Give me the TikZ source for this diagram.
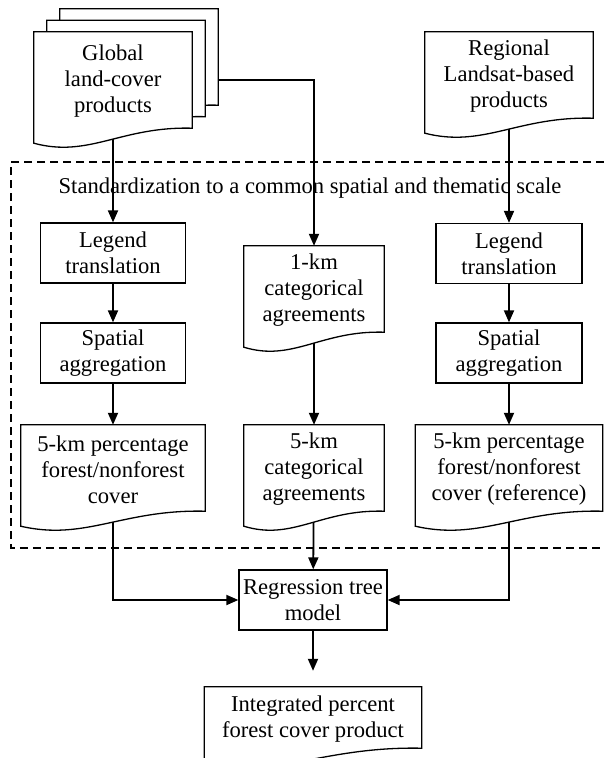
\documentclass[tikz,border=0pt]{standalone}
\usepackage{fontspec}
\setmainfont{Liberation Serif}
\usetikzlibrary{arrows.meta,calc}
\pgfdeclarelayer{background}
\pgfdeclarelayer{shapes}
\pgfsetlayers{background,shapes,main}
\newcommand{\docoutline}[1]{%
 \begin{pgfonlayer}{shapes}
 \draw[docline] let \p1=(#1.north west), \p2=(#1.south east), \n1={\x2-\x1} in
   (\x1,\y1) -- (\x2,\y1) -- (\x2,\y2+3pt) .. controls (\x1+0.55*\n1,\y2+5pt) and (\x1+0.35*\n1,\y2-27pt) .. (\x1,\y2-12pt) -- cycle;
 \end{pgfonlayer}}
\begin{document}
\begin{tikzpicture}[x=1pt,y=-1pt, font=\fontsize{22.6}{26}\selectfont,
 box/.style={draw, line width=1.3pt, fill=white, inner sep=0pt, align=center},
 doc/.style={inner sep=0pt, align=center},
 docline/.style={line width=1.3pt, fill=white, line join=miter},
 conn/.style={line width=1.8pt},
 arr/.style={conn, -{Triangle[length=12pt,width=10pt]}},
 frame/.style={line width=1.1pt, dash pattern=on 8pt off 5pt}]
\useasboundingbox (0,0) rectangle (604,758);

% stacked global products
\node[doc, minimum width=158pt, minimum height=99pt] (gback) at (139,58.5) {};
\node[doc, minimum width=158pt, minimum height=99pt] (gmid) at (126,70) {};
\node[doc, minimum width=158pt, minimum height=99pt] (gfront) at (113,81.5) {Global\\land-cover\\products};
\node[doc, minimum width=168pt, minimum height=89pt] (regional) at (509,76.5) {Regional\\Landsat-based\\products};

\node (std) at (310,188) {Standardization to a common spatial and thematic scale};

\node[box, minimum width=145pt, minimum height=60pt] (legL) at (113,253) {Legend\\translation};
\node[box, minimum width=145pt, minimum height=60pt] (spaL) at (113,353) {Spatial\\aggregation};
\node[box, minimum width=146pt, minimum height=60pt] (legR) at (509,253.5) {Legend\\translation};
\node[box, minimum width=146pt, minimum height=60pt] (spaR) at (509,353) {Spatial\\aggregation};

\node[doc, minimum width=140pt, minimum height=89pt] (km1) at (314,290.5) {1-km\\categorical\\agreements};
\node[doc, minimum width=184pt, minimum height=89pt] (fiveL) at (113,469.5) {5-km percentage\\forest/nonforest\\cover};
\node[doc, minimum width=140pt, minimum height=89pt] (fiveM) at (314,469.5) {5-km\\categorical\\agreements};
\node[doc, minimum width=187pt, minimum height=89pt] (fiveR) at (509,469.5) {5-km percentage\\forest/nonforest\\cover (reference)};

\node[box, minimum width=148pt, minimum height=60pt] (reg) at (313,600) {Regression tree\\model};
\node[doc, minimum width=217pt, minimum height=64pt] (integ) at (313,719) {Integrated percent\\forest cover product};
\coordinate (outtip) at ($(integ.north)+(0,-16)$);

\docoutline{gback}
\docoutline{gmid}
\docoutline{gfront}
\docoutline{regional}
\docoutline{km1}
\docoutline{fiveL}
\docoutline{fiveM}
\docoutline{fiveR}
\docoutline{integ}

\begin{pgfonlayer}{background}
\draw[frame] (604,162) -- (11,162) -- (11,548) -- (604,548);
\draw[arr] (gfront.south) -- (legL.north);
\draw[arr] ([yshift=-21.5pt]gback.east) -| (km1.north);
\draw[arr] (regional.south) -- (legR.north);
\draw[arr] (legL) -- (spaL);
\draw[arr] (spaL) -- (fiveL);
\draw[arr] (legR) -- (spaR);
\draw[arr] (spaR) -- (fiveR);
\draw[arr] (km1) -- (fiveM);
\draw[arr] (fiveM) -- (reg);
\draw[arr] (fiveL.south) |- (reg.west);
\draw[arr] (fiveR.south) |- (reg.east);
\draw[arr] (reg) -- (outtip);
\end{pgfonlayer}
\end{tikzpicture}
\end{document}
